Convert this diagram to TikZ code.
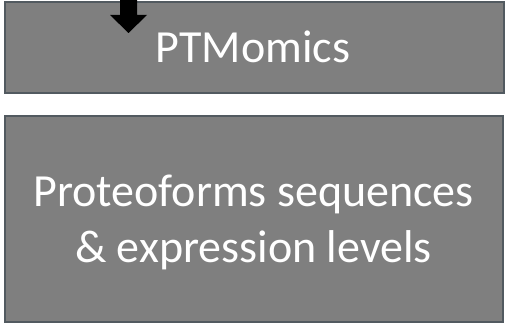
\documentclass[tikz,border=0pt]{standalone}
\usepackage{fontspec}
\setmainfont{Carlito}
\definecolor{boxfill}{HTML}{7F7F7F}
\definecolor{boxline}{HTML}{525A60}
\begin{document}
\begin{tikzpicture}[x=1pt,y=-1pt,
  panel/.style={draw=boxline,line width=1.4pt,fill=boxfill,inner sep=0pt},
  caption/.style={text=white,inner sep=0pt,anchor=base,font=\fontsize{46}{56}\selectfont}]
\useasboundingbox (0,0) rectangle (510,326);
% upper box
\node[panel,minimum width=499pt,minimum height=91pt] (ptm) at (254.5,47.5) {};
\node[caption] (ptmtext) at (253,63) {PTMomics};
% lower box
\node[panel,minimum width=498pt,minimum height=206pt] (prot) at (254,219) {};
\node[caption] (prot1) at (253.5,206) {Proteoforms sequences};
\node[caption] (prot2) at (253.5,262) {\& expression levels};
% incoming block arrow, cut by the top edge
\coordinate (tip) at (128.5,33);
\fill[black] (tip) -- ++(-18.5,-18) -- ++(10,0) -- ++(0,-20) -- ++(17,0) -- ++(0,20) -- ++(10,0) -- cycle;
\end{tikzpicture}
\end{document}
